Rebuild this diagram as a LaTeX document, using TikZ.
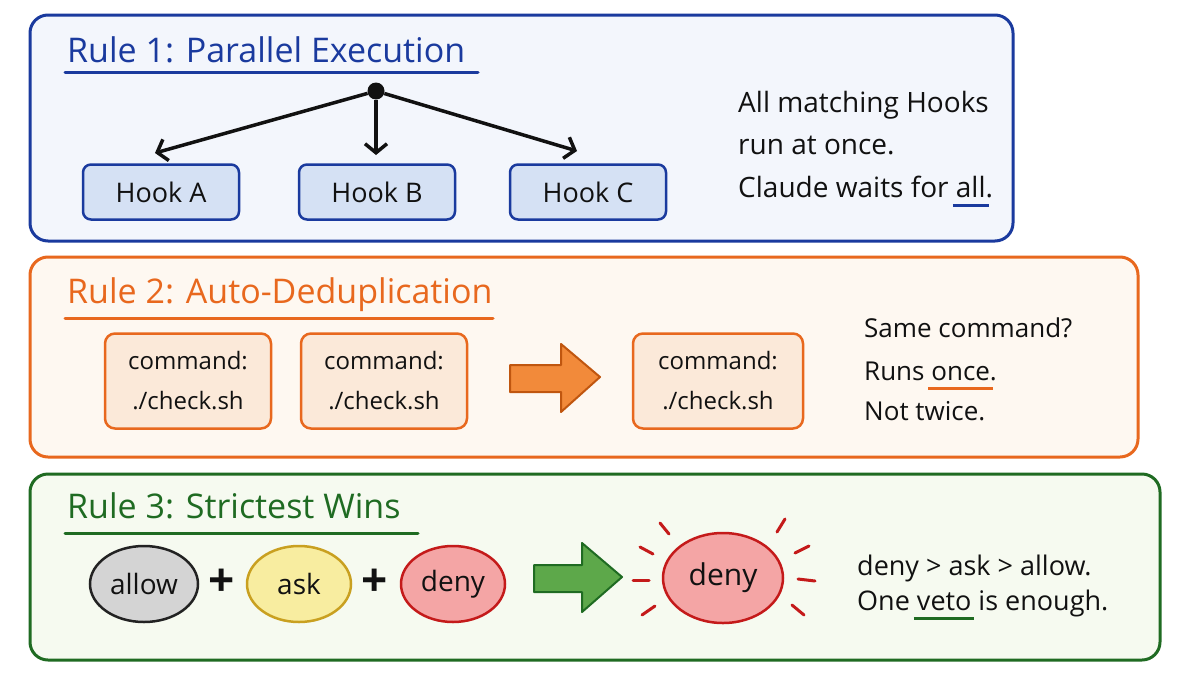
\documentclass[tikz,border=0pt]{standalone}
\usepackage{fontspec}
\setmainfont{Open Sans}
\usetikzlibrary{arrows.meta,shapes.geometric}
\definecolor{bl}{HTML}{1A3A9E}
\definecolor{blpanel}{HTML}{F3F6FC}
\definecolor{blbox}{HTML}{D5E1F4}
\definecolor{orc}{HTML}{E8681E}
\definecolor{orpanel}{HTML}{FEF8F1}
\definecolor{orbox}{HTML}{FBE9D9}
\definecolor{orarrow}{HTML}{F28A3A}
\definecolor{orarrowline}{HTML}{C0560F}
\definecolor{grc}{HTML}{1F6B22}
\definecolor{grpanel}{HTML}{F6FAF0}
\definecolor{grarrow}{HTML}{5DA84A}
\definecolor{grayfill}{HTML}{D4D4D4}
\definecolor{grayline}{HTML}{222222}
\definecolor{yelfill}{HTML}{F8EDA0}
\definecolor{yelline}{HTML}{C9A020}
\definecolor{redfill}{HTML}{F4A5A5}
\definecolor{redline}{HTML}{C41A1A}
\definecolor{ink}{HTML}{111111}
\newcommand\ulword[2]{\setbox0\hbox{#2}\rlap{\hskip-3pt\color{#1}\rule[-10pt]{\dimexpr\wd0+6pt\relax}{3pt}}\box0\relax}
\tikzset{
  panel/.style={line width=3pt, rounded corners=18pt},
  titletext/.style={anchor=base west, inner sep=0pt, font=\fontsize{34}{40}\selectfont},
  bodytext/.style={anchor=base west, inner sep=0pt, text=ink, font=\fontsize{26}{32}\selectfont},
  uline/.style={line width=3pt, line cap=round},
  hookbox/.style={draw=bl, fill=blbox, line width=2.5pt, rounded corners=8pt, minimum width=156pt, minimum height=55pt, inner sep=0pt, text=ink, font=\fontsize{27}{32}\selectfont},
  cmdbox/.style={draw=orc, fill=orbox, line width=2.5pt, rounded corners=10pt, minimum width=166pt, minimum height=95pt, inner sep=0pt, align=center, text=ink, font=\fontsize{24}{40}\selectfont},
  verdict/.style={ellipse, line width=2.5pt, minimum width=106pt, minimum height=76pt, inner sep=0pt, text=ink, font=\fontsize{28}{30}\selectfont},
  fork/.style={line width=3.5pt, ink, -{Straight Barb[length=9pt,width=22pt,line width=3.5pt]}},
  ray/.style={redline, line width=3pt, line cap=round},
  plus/.style={inner sep=0pt, text=ink, font=\fontsize{46}{46}\selectfont\bfseries},
}
\begin{document}
\begin{tikzpicture}[x=1pt,y=-1pt]
\useasboundingbox (0,0) rectangle (1199,675);
\fill[white] (0,0) rectangle (1199,675);

% ---------- Panel 1 ----------
\draw[panel, draw=bl, fill=blpanel] (30,15) rectangle (1013,241);
\node[titletext, text=bl] (t1) at (67,62) {Rule 1: Parallel Execution};
\draw[uline, bl] (65,72) -- (478,72);
\node[circle, fill=ink, inner sep=0pt, minimum size=17pt] (hub) at (376,91) {};
\node[hookbox] (ha) at (161,192) {Hook A};
\node[hookbox] (hb) at (377,192) {Hook B};
\node[hookbox] (hc) at (588,192) {Hook C};
\coordinate (ea) at (155,153);
\coordinate (eb) at (376,155);
\coordinate (ec) at (577,151);
\draw[fork] (hub) -- (ea);
\draw[fork] (hub) -- (eb);
\draw[fork] (hub) -- (ec);
\node[bodytext, font=\fontsize{28}{32}\selectfont] (r1a) at (738,112) {All matching Hooks};
\node[bodytext, font=\fontsize{28}{32}\selectfont] (r1b) at (738,154) {run at once.};
\node[bodytext, font=\fontsize{28}{32}\selectfont] (r1c) at (738,197) {Claude waits for \ulword{bl}{all}.};

% ---------- Panel 2 ----------
\draw[panel, draw=orc, fill=orpanel] (30,257) rectangle (1138,457);
\node[titletext, text=orc] (t2) at (67,303) {Rule 2: Auto-Deduplication};
\draw[uline, orc] (65,318) -- (493,318);
\node[cmdbox] (c1) at (188,381) {command:\\./check.sh};
\node[cmdbox] (c2) at (384,381) {command:\\./check.sh};
\node[cmdbox, minimum width=170pt] (c3) at (718,381) {command:\\./check.sh};
\draw[line width=2pt, draw=orarrowline, fill=orarrow, line join=round]
  (510,365) -- (561,365) -- (561,344) -- (600,377) -- (561,412) -- (561,392) -- (510,392) -- cycle;
\node[bodytext] (r2a) at (864,337) {Same command?};
\node[bodytext] (r2b) at (864,380) {Runs \ulword{orc}{once}.};
\node[bodytext] (r2c) at (864,420) {Not twice.};

% ---------- Panel 3 ----------
\draw[panel, draw=grc, fill=grpanel] (30,474) rectangle (1160,660);
\node[titletext, text=grc] (t3) at (67,518) {Rule 3: Strictest Wins};
\draw[uline, grc] (65,533) -- (418,533);
\node[verdict, draw=grayline, fill=grayfill, minimum width=108pt] (allow) at (144,584) {allow};
\node[plus] (p1) at (222,583) {+};
\node[verdict, draw=yelline, fill=yelfill, minimum width=104pt] (ask) at (299,584) {ask};
\node[plus] (p2) at (375,583) {+};
\node[verdict, draw=redline, fill=redfill, minimum width=104pt] (deny) at (453,584) {deny};
\draw[line width=2pt, draw=grc, fill=grarrow, line join=round]
  (534,565) -- (582,565) -- (582,543) -- (622,577) -- (582,612) -- (582,592) -- (534,592) -- cycle;
\node[verdict, draw=redline, fill=redfill, minimum width=120pt, minimum height=90pt, font=\fontsize{30}{34}\selectfont] (res) at (723,578) {deny};
\draw[ray] (660,523) -- (669,534);
\draw[ray] (640,547) -- (653,554);
\draw[ray] (633,580) -- (649,580);
\draw[ray] (642,615) -- (655,606);
\draw[ray] (785,519) -- (777,532);
\draw[ray] (795,553) -- (809,546);
\draw[ray] (798,579) -- (815,581);
\draw[ray] (792,605) -- (804,615);
\node[bodytext, font=\fontsize{27}{32}\selectfont] (r3a) at (857,575) {deny > ask > allow.};
\node[bodytext, font=\fontsize{27}{32}\selectfont] (r3b) at (857,610) {One \ulword{grc}{veto} is enough.};
\end{tikzpicture}
\end{document}
